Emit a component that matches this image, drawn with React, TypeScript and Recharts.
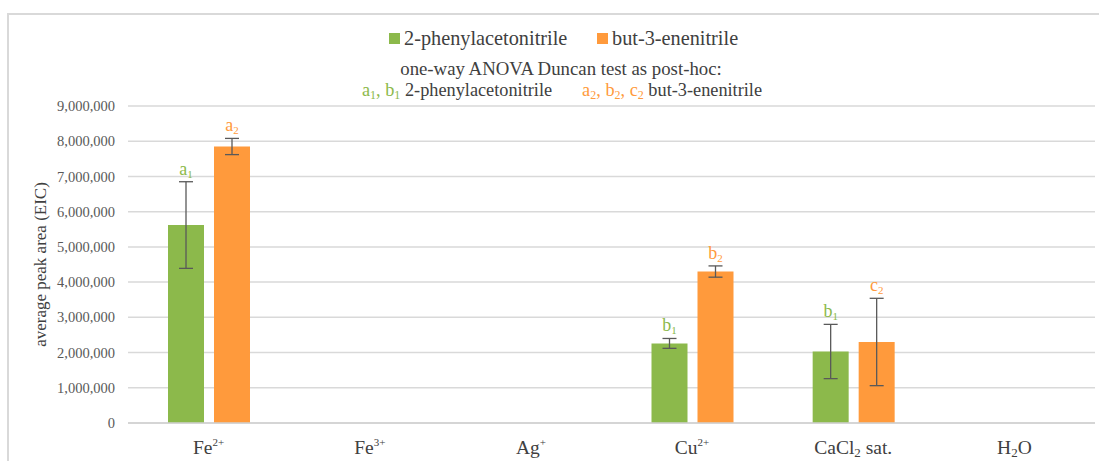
import React from "react"
import { Bar, BarChart, CartesianGrid, ErrorBar, LabelList, XAxis, YAxis } from "recharts"

const categories = ["Fe2+", "Fe3+", "Ag+", "Cu2+", "CaCl2 sat.", "H2O"]
// tick label pieces: [text, "sup" | "sub" | ""]
const tickParts: Array<Array<[string, string]>> = [
  [["Fe", ""], ["2+", "sup"]],
  [["Fe", ""], ["3+", "sup"]],
  [["Ag", ""], ["+", "sup"]],
  [["Cu", ""], ["2+", "sup"]],
  [["CaCl", ""], ["2", "sub"], [" sat.", ""]],
  [["H", ""], ["2", "sub"], ["O", ""]],
]

const phenyl = [5620000, null, null, 2260000, 2030000, null]
const phenylErr = [1230000, null, null, 140000, 770000, null]
const butene = [7850000, null, null, 4300000, 2300000, null]
const buteneErr = [230000, null, null, 160000, 1240000, null]
const phenylLetters = ["a1", "", "", "b1", "b1", ""]
const buteneLetters = ["a2", "", "", "b2", "c2", ""]

const yTicks = [0, 1000000, 2000000, 3000000, 4000000, 5000000, 6000000, 7000000, 8000000, 9000000]

const GREEN = "#8cb94b"
const ORANGE = "#ff9a3c"
const FONT = "'Liberation Serif', serif"
const PLOT_H = 317
const Y_MAX = 9000000

const data = categories.map((c, i) => ({
  name: c,
  phenyl: phenyl[i],
  phenylErr: phenylErr[i],
  butene: butene[i],
  buteneErr: buteneErr[i],
}))

const catIndex = (d: any) => categories.indexOf(d.name)

function Tick(props: any) {
  const { x, y, payload } = props
  const parts = tickParts[payload.index] || [[payload.value, ""]]
  return (
    <text x={x} y={y + 23} textAnchor="middle" fontFamily={FONT} fontSize={19.5} fill="#404040">
      {parts.map(([t, k], i) => {
        if (k === "sup") return <tspan key={i} fontSize={11} dy={-8}>{t}</tspan>
        if (k === "sub") return <tspan key={i} fontSize={13} dy={3}>{t}</tspan>
        const prev = i > 0 ? parts[i - 1][1] : ""
        const dy = prev === "sup" ? 8 : prev === "sub" ? -3 : 0
        return <tspan key={i} dy={dy}>{t}</tspan>
      })}
    </text>
  )
}

function letterLabel(letters: string[], errs: Array<number | null>, color: string) {
  return (props: any) => {
    const { x, y, width, value } = props
    const l = letters[value]
    if (!l) return null
    const err = errs[value] || 0
    const top = y - (err / Y_MAX) * PLOT_H
    return (
      <text x={x + width / 2} y={top - 7} textAnchor="middle" fontFamily={FONT} fontSize={18} fill={color}>
        {l[0]}
        <tspan fontSize={11} dy={3}>{l.slice(1)}</tspan>
      </text>
    )
  }
}

function Sub({ children }: { children: React.ReactNode }) {
  return <tspan fontSize={12} dy={3}>{children}</tspan>
}

export default function App() {
  return (
    <div style={{ position: "absolute", left: 0, top: 0, width: 1099, height: 461, background: "#fff", overflow: "hidden" }}>
      <div style={{ position: "absolute", left: 7, top: 13, width: 1100, height: 460, borderLeft: "2px solid #d9d9d9", borderTop: "2px solid #d9d9d9" }} />
      <BarChart width={1099} height={461} data={data} margin={{ top: 106, right: 4, bottom: 0, left: 0 }} barSize={36} barGap={10} style={{ position: "absolute", left: 0, top: 0 }}>
        <CartesianGrid vertical={false} stroke="#d9d9d9" strokeWidth={1.5} />
        <XAxis dataKey="name" height={38} tick={<Tick />} tickLine={false} axisLine={{ stroke: "#d0d0d0", strokeWidth: 1.5 }} interval={0} />
        <YAxis
          width={128}
          domain={[0, Y_MAX]}
          ticks={yTicks}
          tickLine={false}
          axisLine={false}
          tickMargin={7}
          tickFormatter={(v: number) => v.toLocaleString("en-US")}
          tick={{ fontFamily: FONT, fontSize: 14.5, fill: "#595959" }}
          label={{ value: "average peak area (EIC)", angle: -90, position: "insideLeft", offset: 40, style: { fontFamily: FONT, fontSize: 17, fill: "#404040", textAnchor: "middle" } }}
        />
        <Bar dataKey="phenyl" fill={GREEN} isAnimationActive={false}>
          <ErrorBar dataKey="phenylErr" width={7} stroke="#595959" strokeWidth={1.3} />
          <LabelList dataKey={catIndex} content={letterLabel(phenylLetters, phenylErr, GREEN)} />
        </Bar>
        <Bar dataKey="butene" fill={ORANGE} isAnimationActive={false}>
          <ErrorBar dataKey="buteneErr" width={7} stroke="#595959" strokeWidth={1.3} />
          <LabelList dataKey={catIndex} content={letterLabel(buteneLetters, buteneErr, ORANGE)} />
        </Bar>
      </BarChart>
      <svg width={1099} height={105} style={{ position: "absolute", left: 0, top: 0 }} fontFamily={FONT}>
        <rect x={389} y={33} width={11} height={11} fill={GREEN} />
        <text x={404} y={45} fontSize={20.3} fill="#404040">2-phenylacetonitrile</text>
        <rect x={597} y={33} width={11} height={11} fill={ORANGE} />
        <text x={612} y={45} fontSize={20.3} fill="#404040">but-3-enenitrile</text>
        <text x={561} y={75} fontSize={18.8} fill="#404040" textAnchor="middle">one-way ANOVA Duncan test as post-hoc:</text>
        <text x={562} y={96} fontSize={18.3} fill="#404040" textAnchor="middle">
          <tspan fill={GREEN}>a</tspan><Sub><tspan fill={GREEN}>1</tspan></Sub>
          <tspan fill={GREEN} dy={-3}>, b</tspan><Sub><tspan fill={GREEN}>1</tspan></Sub>
          <tspan dy={-3}> 2-phenylacetonitrile</tspan>
          <tspan fill={ORANGE} dx={30}>a</tspan><Sub><tspan fill={ORANGE}>2</tspan></Sub>
          <tspan fill={ORANGE} dy={-3}>, b</tspan><Sub><tspan fill={ORANGE}>2</tspan></Sub>
          <tspan fill={ORANGE} dy={-3}>, c</tspan><Sub><tspan fill={ORANGE}>2</tspan></Sub>
          <tspan dy={-3}> but-3-enenitrile</tspan>
        </text>
      </svg>
    </div>
  )
}
